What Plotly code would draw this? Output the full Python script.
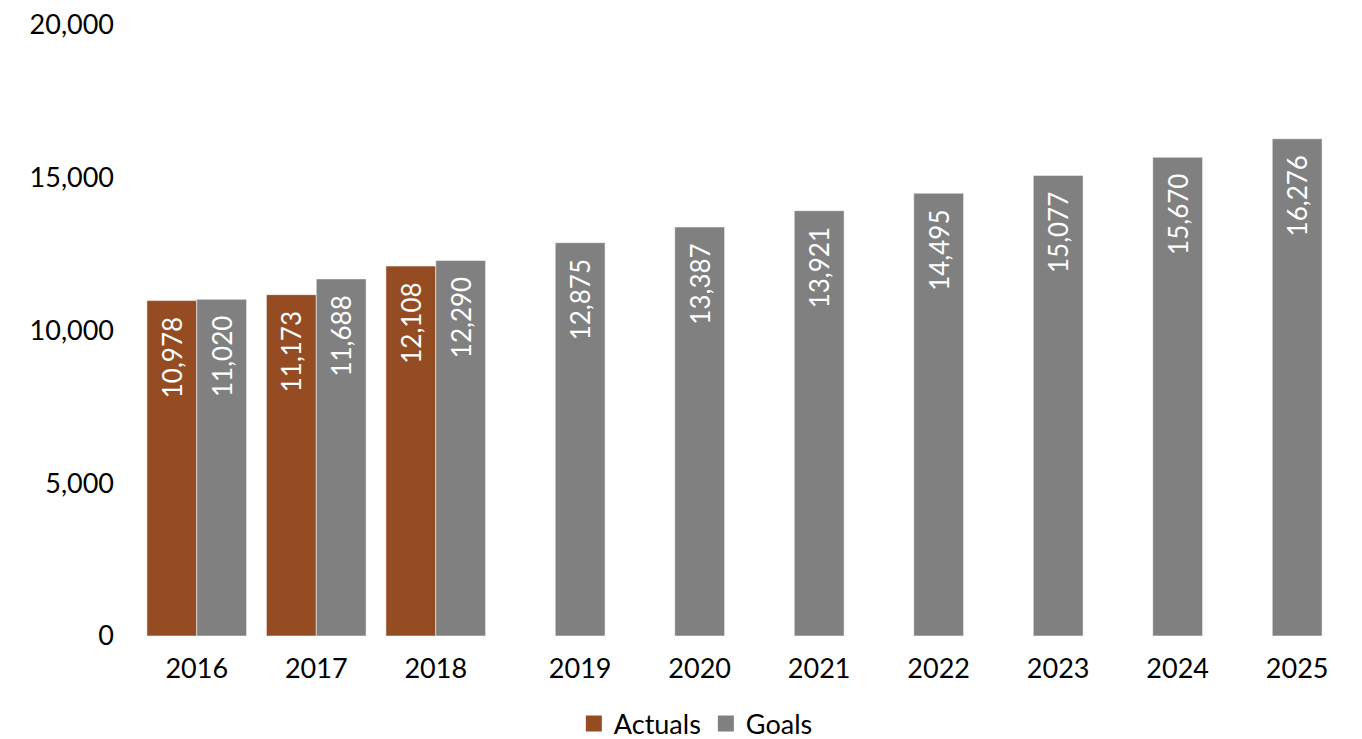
import plotly.graph_objects as go

years = ["2016", "2017", "2018", "2019", "2020", "2021", "2022", "2023", "2024", "2025"]
actuals = [10978, 11173, 12108]
goals = [11020, 11688, 12290, 12875, 13387, 13921, 14495, 15077, 15670, 16276]

BROWN = "#954C22"
GRAY = "#808080"
FONT = "Avenir Next, Avenir, Lato, sans-serif"
W = 0.417

idx_a = list(range(len(actuals)))
idx_g = list(range(len(goals)))

def lab(v):
    return f"{v:,}\u00a0\u00a0"

fig = go.Figure()
fig.add_trace(go.Bar(
    name="Actuals", x=idx_a, y=actuals, offset=-W, width=W, showlegend=False,
    legendgroup="a",
    marker=dict(color=BROWN, line=dict(color="rgba(255,255,255,0.5)", width=1)),
    text=[lab(v) for v in actuals], textposition="inside", insidetextanchor="end",
    textangle=-90, textfont=dict(color="white", size=26, family=FONT),
    constraintext="none", hoverinfo="x+y",
))
fig.add_trace(go.Bar(
    name="Goals", x=idx_g, y=goals, offset=0, width=W, showlegend=False,
    legendgroup="g",
    marker=dict(color=GRAY, line=dict(color="rgba(255,255,255,0.5)", width=1)),
    text=[lab(v) for v in goals], textposition="inside", insidetextanchor="end",
    textangle=-90, textfont=dict(color="white", size=26, family=FONT),
    constraintext="none", hoverinfo="x+y",
))
# legend entries with larger square swatches
for name, col, grp in [("Actuals", BROWN, "a"), ("Goals", GRAY, "g")]:
    fig.add_trace(go.Scatter(
        name=name, x=[None], y=[None], mode="markers", legendgroup=grp,
        marker=dict(symbol="square", size=18, color=col), showlegend=True,
    ))

tickvals = [i if i < len(actuals) else i + W / 2 for i in idx_g]

fig.update_layout(
    width=1354, height=731,
    barmode="overlay",
    plot_bgcolor="white", paper_bgcolor="white",
    margin=dict(l=129, r=30, t=17, b=103, autoexpand=False),
    font=dict(family=FONT, size=27, color="#000000"),
    showlegend=True,
    legend=dict(orientation="h", xref="container", x=0.508, xanchor="center",
                yref="container", y=0.0205, yanchor="middle",
                font=dict(size=27, family=FONT), itemwidth=30, traceorder="normal"),
    xaxis=dict(range=[-0.5, 9.5], tickvals=tickvals, ticktext=years,
               showgrid=False, zeroline=False, showline=False, ticks="",
               ticklabelstandoff=14, tickfont=dict(size=27), automargin=False),
    yaxis=dict(range=[0, 20000], tickvals=[0, 5000, 10000, 15000, 20000],
               tickformat=",", showgrid=False, zeroline=False, showline=False,
               ticks="", ticklabelstandoff=22, tickfont=dict(size=27),
               automargin=False, ticklabeloverflow="allow"),
)

fig.write_html("out.html")
